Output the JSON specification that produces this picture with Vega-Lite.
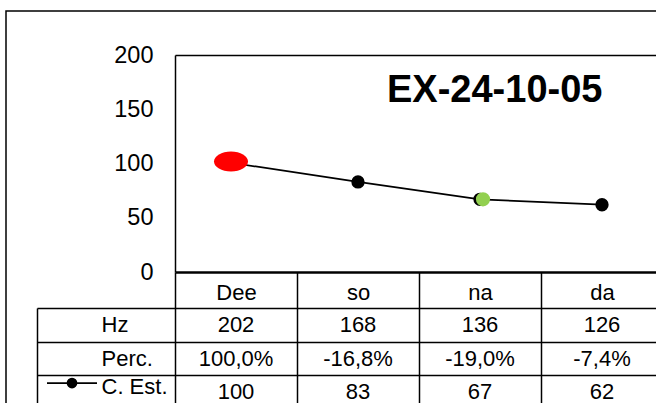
{
  "$schema": "https://vega.github.io/schema/vega-lite/v6.json",
  "width": 650,
  "height": 392,
  "autosize": {"type": "none"},
  "padding": {"left": 6, "top": 11, "right": 0, "bottom": 0},
  "background": "white",
  "title": {
    "text": "EX-24-10-05",
    "anchor": "start",
    "frame": "group",
    "dx": 381,
    "offset": -139.5,
    "baseline": "alphabetic",
    "font": "Liberation Sans",
    "fontSize": 38,
    "fontWeight": "bold",
    "color": "black"
  },
  "config": {
    "view": {"stroke": "black", "strokeWidth": 1.5, "strokeDash": [650, 1042, 392]},
    "font": "Liberation Sans"
  },
  "datasets": {
    "series": [
      {"cat": "Dee", "value": 100},
      {"cat": "so", "value": 83},
      {"cat": "na", "value": 67},
      {"cat": "da", "value": 62}
    ],
    "table": [
      {"cat": "Dee", "row": "Hz", "text": "202"},
      {"cat": "so", "row": "Hz", "text": "168"},
      {"cat": "na", "row": "Hz", "text": "136"},
      {"cat": "da", "row": "Hz", "text": "126"},
      {"cat": "Dee", "row": "Perc.", "text": "100,0%"},
      {"cat": "so", "row": "Perc.", "text": "-16,8%"},
      {"cat": "na", "row": "Perc.", "text": "-19,0%"},
      {"cat": "da", "row": "Perc.", "text": "-7,4%"},
      {"cat": "Dee", "row": "C. Est.", "text": "100"},
      {"cat": "so", "row": "C. Est.", "text": "83"},
      {"cat": "na", "row": "C. Est.", "text": "67"},
      {"cat": "da", "row": "C. Est.", "text": "62"}
    ]
  },
  "layer": [
    {
      "data": {"name": "series"},
      "encoding": {
        "x": {
          "field": "cat",
          "type": "nominal",
          "sort": null,
          "scale": {"domain": ["Dee", "so", "na", "da"], "range": [169, 657], "paddingInner": 0, "paddingOuter": 0},
          "axis": {
            "orient": "bottom",
            "offset": -131,
            "title": null,
            "grid": false,
            "tickBand": "extent",
            "tickSize": 140,
            "tickColor": "black",
            "tickWidth": 1.5,
            "domainColor": "black",
            "domainWidth": 2.5,
            "labelAngle": 0,
            "labelPadding": -120,
            "labelBaseline": "middle",
            "labelFont": "Liberation Sans",
            "labelFontSize": 22,
            "labelColor": "black"
          }
        },
        "y": {
          "field": "value",
          "type": "quantitative",
          "scale": {"domain": [0, 200], "range": [261, 44], "nice": false},
          "axis": {
            "orient": "left",
            "offset": -169,
            "title": null,
            "values": [0, 50, 100, 150, 200],
            "ticks": false,
            "labelPadding": 22,
            "labelFont": "Liberation Sans",
            "labelFontSize": 23.5,
            "labelColor": "black",
            "domainColor": "black",
            "domainWidth": 1.5,
            "grid": true,
            "gridColor": "black",
            "gridWidth": 1.5,
            "gridOpacity": {"condition": {"test": "datum.value === 200", "value": 1}, "value": 0}
          }
        }
      },
      "layer": [
        {"mark": {"type": "line", "color": "black", "strokeWidth": 1.75}},
        {
          "mark": {"type": "point", "shape": "circle", "filled": true, "size": 177, "opacity": 1},
          "encoding": {
            "color": {
              "datum": "C. Est.",
              "type": "nominal",
              "scale": {"range": ["black"]},
              "legend": {
                "orient": "none",
                "legendX": 40,
                "legendY": 346,
                "title": null,
                "padding": 0,
                "labelExpr": "''",
                "symbolType": "M-1,0H1M-0.18,0A0.18,0.18,0,1,0,0.18,0A0.18,0.18,0,1,0,-0.18,0Z",
                "symbolSize": 2500,
                "symbolFillColor": "black",
                "symbolStrokeColor": "black",
                "symbolStrokeWidth": 1.75,
                "symbolOpacity": 1,
                "encode": {
                  "symbols": {
                    "enter": {
                      "stroke": {"value": "black"},
                      "strokeWidth": {"value": 1.75}
                    },
                    "update": {
                      "fill": {"value": "black"},
                      "stroke": {"value": "black"},
                      "strokeWidth": {"value": 1.75},
                      "opacity": {"value": 1}
                    }
                  }
                }
              }
            }
          }
        },
        {
          "transform": [{"filter": "datum.cat === 'Dee'"}],
          "mark": {"type": "point", "shape": "M-1,0A1,0.59,0,1,0,1,0A1,0.59,0,1,0,-1,0Z", "filled": true, "size": 1156, "color": "#FF0000", "opacity": 1, "xOffset": -5, "yOffset": -2}
        },
        {
          "transform": [{"filter": "datum.cat === 'na'"}],
          "mark": {"type": "point", "shape": "circle", "filled": true, "size": 200, "color": "#92D050", "opacity": 1, "xOffset": 3}
        }
      ]
    },
    {
      "data": {"name": "table"},
      "mark": {"type": "text", "font": "Liberation Sans", "fontSize": 22, "color": "black", "align": "center", "baseline": "middle"},
      "encoding": {
        "x": {
          "field": "cat",
          "type": "nominal",
          "sort": null,
          "scale": {"domain": ["Dee", "so", "na", "da"], "range": [169, 657], "paddingInner": 0, "paddingOuter": 0},
          "axis": {
            "orient": "bottom",
            "offset": -131,
            "title": null,
            "grid": false,
            "tickBand": "extent",
            "tickSize": 140,
            "tickColor": "black",
            "tickWidth": 1.5,
            "domainColor": "black",
            "domainWidth": 2.5,
            "labelAngle": 0,
            "labelPadding": -120,
            "labelBaseline": "middle",
            "labelFont": "Liberation Sans",
            "labelFontSize": 22,
            "labelColor": "black"
          }
        },
        "y": {
          "field": "row",
          "type": "nominal",
          "sort": null,
          "scale": {"domain": ["Hz", "Perc.", "C. Est."], "range": [297, 398], "paddingInner": 0, "paddingOuter": 0},
          "axis": {
            "orient": "left",
            "offset": -31,
            "title": null,
            "tickBand": "extent",
            "tickSize": -138,
            "tickColor": "black",
            "tickWidth": 1.5,
            "domainColor": "black",
            "domainWidth": 1.5,
            "grid": true,
            "gridColor": "black",
            "gridWidth": 1.5,
            "labelAlign": "left",
            "labelBaseline": "middle",
            "labelPadding": 74,
            "labelOffset": {"condition": {"test": "datum.value === 'C. Est.'", "value": -6}, "value": 0},
            "labelFont": "Liberation Sans",
            "labelFontSize": 22,
            "labelColor": "black"
          }
        },
        "text": {"field": "text", "type": "nominal"}
      }
    }
  ],
  "resolve": {"scale": {"y": "independent"}, "axis": {"y": "independent"}}
}
